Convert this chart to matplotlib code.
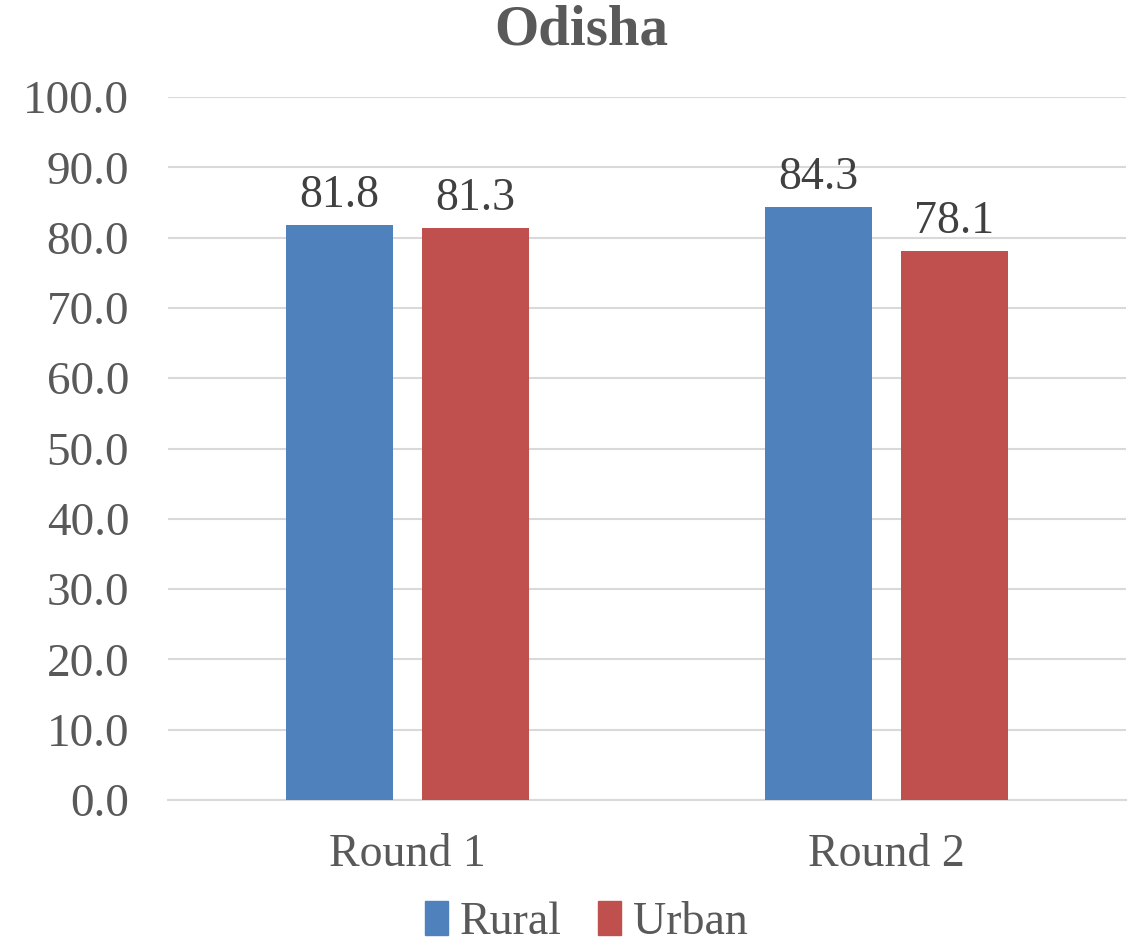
import numpy as np
import matplotlib.pyplot as plt
from matplotlib.patches import Patch

# Data
rounds = ["Round 1", "Round 2"]
rural = [81.8, 84.3]
urban = [81.3, 78.1]
series_names = ["Rural", "Urban"]
y_ticks = [0, 10, 20, 30, 40, 50, 60, 70, 80, 90, 100]

blue = "#4F81BD"
red = "#C0504D"
text_col = "#595959"
label_col = "#404040"
grid_col = "#D9D9D9"

plt.rcParams['font.family'] = ['Liberation Serif', 'DejaVu Serif']

fig = plt.figure(figsize=(11.28, 9.43), dpi=100)
ax = fig.add_axes([0.149, 0.1516, 0.849, 0.7455])

x = np.arange(len(rounds))
width = 0.224
offset = 0.142

bars_r = ax.bar(x - offset, rural, width, color=blue, zorder=3)
bars_u = ax.bar(x + offset, urban, width, color=red, zorder=3)

# value labels above bars
for bars in (bars_r, bars_u):
    ax.bar_label(bars, labels=[f"{v:.1f}" for v in bars.datavalues],
                 padding=6, fontsize=33, color=label_col)

ax.set_xlim(-0.5, 1.5)
ax.set_ylim(0, 100)
ax.set_yticks(y_ticks)
ax.set_yticklabels([f"{v:.1f}" for v in y_ticks])
ax.set_xticks(x)
ax.set_xticklabels(rounds)

ax.yaxis.grid(True, color=grid_col, linewidth=1.5, zorder=0)
ax.set_axisbelow(True)
for side in ("top", "right", "left"):
    ax.spines[side].set_visible(False)
ax.spines["bottom"].set_color(grid_col)
ax.spines["bottom"].set_linewidth(1.5)

ax.tick_params(axis="y", length=0, pad=28, labelsize=34, labelcolor=text_col)
ax.tick_params(axis="x", length=0, pad=24, labelsize=33, labelcolor=text_col)

fig.text(0.515, 0.968, "Odisha", ha="center", va="center",
         fontsize=41, fontweight="bold", color=text_col)

handles = [Patch(color=blue), Patch(color=red)]
fig.legend(handles, series_names, loc="lower center", bbox_to_anchor=(0.52, -0.045),
           ncol=2, frameon=False, fontsize=33, labelcolor=text_col,
           handlelength=0.5, handleheight=0.75, handletextpad=0.25, columnspacing=0.8)

fig.savefig("out.png", dpi=100)
